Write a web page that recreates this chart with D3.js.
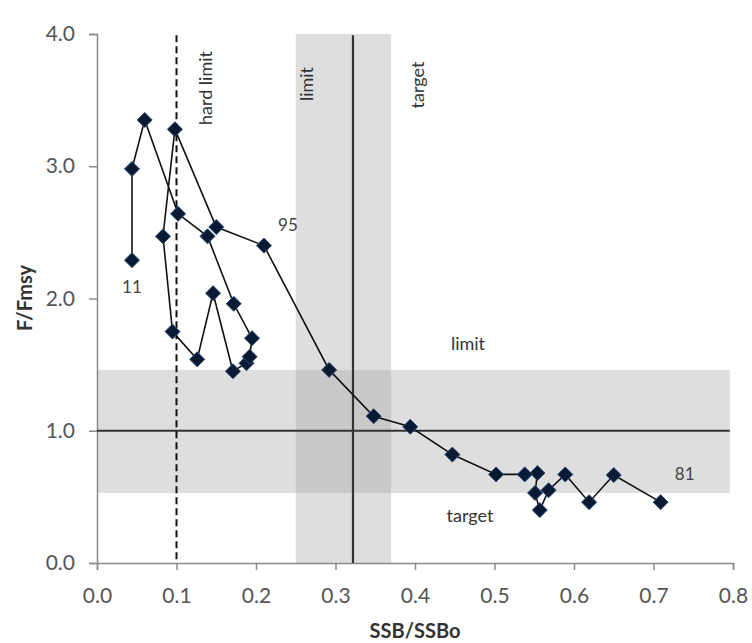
<!DOCTYPE html>
<html><head><meta charset="utf-8">
<script src="https://cdn.jsdelivr.net/npm/d3@7"></script>
<style>body{margin:0;background:#fff}svg{display:block;font-family:Lato,"Open Sans",sans-serif}</style>
</head><body><svg id="c" width="752" height="643"></svg>
<script>
// Years 1981 .. 2011 (trajectory order)
const years = [1981,1982,1983,1984,1985,1986,1987,1988,1989,1990,1991,1992,1993,1994,1995,
  1996,1997,1998,1999,2000,2001,2002,2003,2004,2005,2006,2007,2008,2009,2010,2011];
const ssb = [0.709,0.650,0.619,0.589,0.568,0.557,0.551,0.554,0.538,0.502,0.447,0.394,0.348,0.292,0.210,
  0.150,0.098,0.083,0.095,0.126,0.146,0.171,0.188,0.192,0.195,0.172,0.139,0.102,0.060,0.044,0.044];
const fmsy = [0.46,0.665,0.46,0.67,0.55,0.40,0.53,0.68,0.67,0.67,0.82,1.03,1.11,1.46,2.40,
  2.54,3.28,2.47,1.75,1.54,2.04,1.45,1.51,1.56,1.70,1.96,2.47,2.64,3.35,2.98,2.29];
const labelYears = [1981,1995,2011];
const labelText = ["81","95","11"];
const xTicks = [0,0.1,0.2,0.3,0.4,0.5,0.6,0.7,0.8];
const yTicks = [0,1,2,3,4];
// reference zones
const ssbLimitBand = [0.25,0.37];
const fLimitBand = [0.53,1.46];
const ssbRef = 0.322, fRef = 1.0, hardLimit = 0.1;

const svg = d3.select("#c");
const x = d3.scaleLinear().domain([0,0.8]).range([97,733]);
const y = d3.scaleLinear().domain([0,4]).range([563,34]);

// shaded bands
svg.append("rect").attr("x",x(0)).attr("width",x(0.796)-x(0))
  .attr("y",y(fLimitBand[1])).attr("height",y(fLimitBand[0])-y(fLimitBand[1])).attr("fill","#dedede");
svg.append("rect").attr("x",x(ssbLimitBand[0])).attr("width",x(ssbLimitBand[1])-x(ssbLimitBand[0]))
  .attr("y",y(4)).attr("height",y(0)-y(4)).attr("fill","#dedede");
svg.append("rect").attr("x",x(ssbLimitBand[0])).attr("width",x(ssbLimitBand[1])-x(ssbLimitBand[0]))
  .attr("y",y(fLimitBand[1])).attr("height",y(fLimitBand[0])-y(fLimitBand[1])).attr("fill","#c9c9c9");

// axes
const xa = svg.append("g").attr("transform",`translate(0,${y(0)})`)
  .call(d3.axisBottom(x).tickValues(xTicks).tickFormat(d3.format(".1f")).tickSizeOuter(0).tickSize(7).tickPadding(18));
const ya = svg.append("g").attr("transform",`translate(${x(0)},0)`)
  .call(d3.axisLeft(y).tickValues(yTicks).tickFormat(d3.format(".1f")).tickSizeOuter(0).tickSize(8).tickPadding(14));
[xa,ya].forEach(g=>{
  g.select(".domain").attr("stroke","#8a8a8a").attr("stroke-width",1.5);
  g.selectAll(".tick line").attr("stroke","#8a8a8a").attr("stroke-width",1.5);
  g.selectAll(".tick text").attr("fill","#555").style("font-size","21px").style("font-family","Lato,'Open Sans',sans-serif");
});

// reference lines
svg.append("line").attr("x1",x(0)).attr("x2",x(0.796)).attr("y1",y(fRef)).attr("y2",y(fRef))
  .attr("stroke","#333").attr("stroke-width",2.2);
svg.append("line").attr("x1",x(ssbRef)).attr("x2",x(ssbRef)).attr("y1",y(3.99)).attr("y2",y(0))
  .attr("stroke","#333").attr("stroke-width",2.2);
svg.append("line").attr("x1",x(hardLimit)).attr("x2",x(hardLimit)).attr("y1",y(3.99)).attr("y2",y(0))
  .attr("stroke","#111").attr("stroke-width",2).attr("stroke-dasharray","7,4");

// trajectory
const pts = years.map((yr,i)=>({yr, x:ssb[i], y:fmsy[i]}));
svg.append("path").datum(pts)
  .attr("d",d3.line().x(d=>x(d.x)).y(d=>y(d.y)))
  .attr("fill","none").attr("stroke","#111").attr("stroke-width",1.6);
svg.selectAll(".pt").data(pts).enter().append("path")
  .attr("transform",d=>`translate(${x(d.x)},${y(d.y)})`)
  .attr("d","M0,-7.5L7.5,0L0,7.5L-7.5,0Z")
  .attr("fill","#0b1a33").attr("stroke","#2b4a75").attr("stroke-width",1);

// year labels
const lblOff = {1981:[24,-22],1995:[24,-15],2011:[0,33]};
labelYears.forEach((yr,i)=>{
  const p = pts.find(d=>d.yr===yr);
  svg.append("text").attr("x",x(p.x)+lblOff[yr][0]).attr("y",y(p.y)+lblOff[yr][1])
    .attr("text-anchor","middle").attr("fill","#444").style("font-size","17px").text(labelText[i]);
});

// zone labels
const t = (txt,tx,ty,rot)=>svg.append("text").attr("transform",`translate(${tx},${ty}) rotate(${rot})`)
  .attr("text-anchor","middle").attr("dominant-baseline","central").attr("fill","#333").style("font-size","18px").text(txt);
t("hard limit",205,88,-90);
t("limit",306,84,-90);
t("target",417,85,-90);
t("limit",468,343,0);
t("target",470,515,0);

// axis titles
svg.append("text").attr("x",415).attr("y",638).attr("text-anchor","middle")
  .style("font-size","20px").style("font-weight","bold").attr("fill","#333").text("SSB/SSBo");
svg.append("text").attr("transform","translate(32,298) rotate(-90)").attr("text-anchor","middle")
  .style("font-size","20px").style("font-weight","bold").attr("fill","#333").text("F/Fmsy");
</script></body></html>
